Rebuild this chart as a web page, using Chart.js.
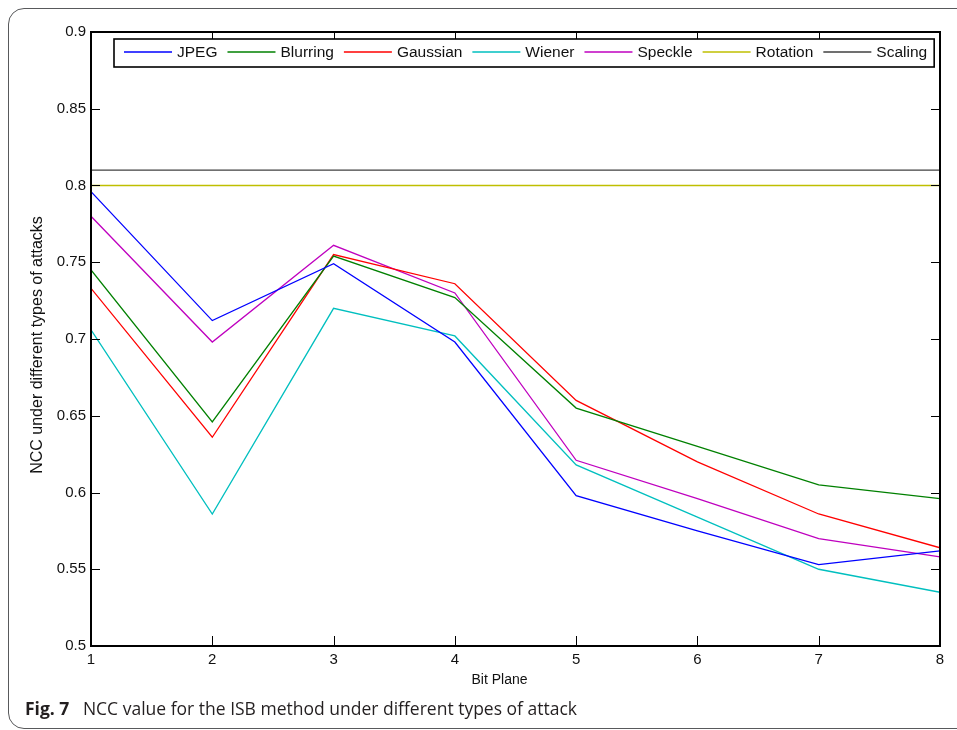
<!DOCTYPE html>
<html>
<head>
<title>NCC under attacks</title>
<script src="https://cdn.jsdelivr.net/npm/chart.js"></script>
<style>
body {
  margin: 0;
  padding: 0;
  background-color: #fff;
  overflow: hidden;
}
#wrap {
  position: relative;
  width: 957px;
  height: 730px;
  overflow: hidden;
}
#frame {
  position: absolute;
  left: 8px;
  top: 8px;
  width: 1000px;
  height: 719px;
  border: 1px solid #58595b;
  border-radius: 16px;
}
#chart {
  position: absolute;
  left: 0;
  top: 0;
}
#caption {
  position: absolute;
  left: 25px;
  top: 698px;
  font-family: "Open Sans", sans-serif;
  font-size: 17.5px;
  line-height: 20px;
  color: #231f20;
  white-space: nowrap;
}
#caption b {
  font-weight: 700;
  margin-right: 9px;
}
</style>
</head>
<body>
<div id="wrap">
  <div id="frame"></div>
  <canvas id="chart" width="957" height="730"></canvas>
  <div id="caption"><b>Fig. 7</b> NCC value for the ISB method under different types of attack</div>
</div>

<script>
// NCC per bit plane, one array per attack
const bitPlanes = [1, 2, 3, 4, 5, 6, 7, 8];
const jpeg     = [0.796, 0.712, 0.749, 0.698, 0.598, 0.575, 0.553, 0.562];
const blurring = [0.745, 0.646, 0.754, 0.727, 0.655, 0.630, 0.605, 0.596];
const gaussian = [0.733, 0.636, 0.755, 0.736, 0.660, 0.620, 0.586, 0.564];
const wiener   = [0.706, 0.586, 0.720, 0.702, 0.618, 0.584, 0.550, 0.535];
const speckle  = [0.780, 0.698, 0.761, 0.730, 0.621, 0.596, 0.570, 0.558];
const rotation = [0.800, 0.800, 0.800, 0.800, 0.800, 0.800, 0.800, 0.800];
const scaling  = [0.810, 0.810, 0.810, 0.810, 0.810, 0.810, 0.810, 0.810];

const xTicks = [1, 2, 3, 4, 5, 6, 7, 8];
const yTicks = [0.5, 0.55, 0.6, 0.65, 0.7, 0.75, 0.8, 0.85, 0.9];

const FONT = '"Liberation Sans", Arial, sans-serif';

function series(label, values, color) {
  return {
    label: label,
    data: bitPlanes.map((b, i) => ({ x: b, y: values[i] })),
    borderColor: color,
    borderWidth: 1.3,
    pointRadius: 0,
    tension: 0,
    fill: false
  };
}

// matlab-like box: inward ticks on all four sides, legend inside the axes
const axesBox = {
  id: 'axesBox',
  afterDatasetsDraw(chart) {
    const { ctx, chartArea: a, scales: { x, y } } = chart;
    ctx.save();

    ctx.strokeStyle = '#000';
    ctx.lineWidth = 1;
    ctx.beginPath();
    yTicks.forEach(v => {
      const py = Math.round(y.getPixelForValue(v)) + 0.5;
      ctx.moveTo(a.left, py); ctx.lineTo(a.left + 9, py);
      ctx.moveTo(a.right, py); ctx.lineTo(a.right - 9, py);
    });
    xTicks.forEach(v => {
      const px = Math.round(x.getPixelForValue(v)) + 0.5;
      ctx.moveTo(px, a.bottom); ctx.lineTo(px, a.bottom - 10);
      ctx.moveTo(px, a.top); ctx.lineTo(px, a.top + 10);
    });
    ctx.stroke();

    ctx.lineWidth = 2;
    ctx.strokeRect(a.left, a.top, a.right - a.left, a.bottom - a.top);

    // legend
    ctx.font = '15.5px ' + FONT;
    ctx.textBaseline = 'middle';
    ctx.textAlign = 'left';
    const boxLeft = a.left + 23;
    const boxTop = a.top + 7;
    const boxH = 28;
    let cx = boxLeft + 10;
    const items = chart.data.datasets.map(ds => {
      const item = { ds: ds, x: cx };
      cx += 53 + ctx.measureText(ds.label).width + 10;
      return item;
    });
    const boxRight = cx - 3;
    ctx.fillStyle = '#fff';
    ctx.fillRect(boxLeft, boxTop, boxRight - boxLeft, boxH);
    ctx.lineWidth = 1.6;
    ctx.strokeStyle = '#000';
    ctx.strokeRect(boxLeft, boxTop, boxRight - boxLeft, boxH);
    const ly = boxTop + 13;
    items.forEach(it => {
      ctx.strokeStyle = it.ds.borderColor;
      ctx.lineWidth = 1.3;
      ctx.beginPath();
      ctx.moveTo(it.x, ly);
      ctx.lineTo(it.x + 48, ly);
      ctx.stroke();
      ctx.fillStyle = '#111';
      ctx.fillText(it.ds.label, it.x + 53, ly + 1);
    });

    // axis titles
    ctx.fillStyle = '#111';
    ctx.textAlign = 'center';
    ctx.font = '14px ' + FONT;
    ctx.fillText('Bit Plane', (a.left + a.right) / 2 - 16, a.bottom + 34);
    ctx.font = '16px ' + FONT;
    ctx.translate(38, (a.top + a.bottom) / 2 + 6);
    ctx.rotate(-Math.PI / 2);
    ctx.fillText('NCC under different types of attacks', 0, 0);

    ctx.restore();
  }
};

const chart = new Chart(document.getElementById('chart'), {
  type: 'line',
  data: {
    datasets: [
      series('JPEG', jpeg, '#0000ff'),
      series('Blurring', blurring, '#008000'),
      series('Gaussian', gaussian, '#ff0000'),
      series('Wiener', wiener, '#00bfbf'),
      series('Speckle', speckle, '#bf00bf'),
      series('Rotation', rotation, '#bfbf00'),
      series('Scaling', scaling, '#404040')
    ]
  },
  options: {
    responsive: false,
    animation: false,
    layout: {
      padding: { top: 32, right: 17, bottom: 54, left: 0 }
    },
    plugins: {
      legend: { display: false },
      tooltip: { enabled: false }
    },
    scales: {
      x: {
        type: 'linear',
        min: 1,
        max: 8,
        grid: { display: false, drawTicks: false },
        border: { display: false },
        afterBuildTicks: s => { s.ticks = xTicks.map(v => ({ value: v })); },
        afterFit: s => { s.height = 30; },
        ticks: {
          padding: 5,
          maxRotation: 0,
          color: '#111',
          font: { family: FONT, size: 15 },
          callback: v => String(v)
        }
      },
      y: {
        min: 0.5,
        max: 0.9,
        grid: { display: false, drawTicks: false },
        border: { display: false },
        afterBuildTicks: s => { s.ticks = yTicks.map(v => ({ value: v })); },
        afterFit: s => { s.width = 91; },
        ticks: {
          padding: 5,
          color: '#111',
          font: { family: FONT, size: 15 },
          callback: v => String(+v.toFixed(2))
        }
      }
    }
  },
  plugins: [axesBox]
});
</script>
</body>
</html>
